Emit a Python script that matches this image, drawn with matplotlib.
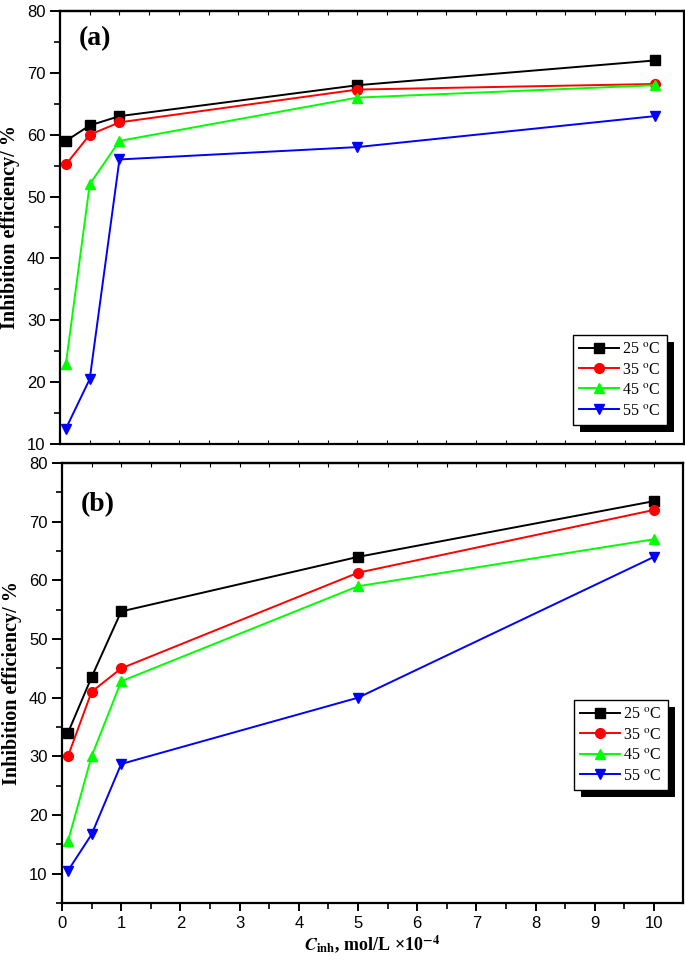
import matplotlib
matplotlib.use("Agg")
import matplotlib.pyplot as plt
from matplotlib.patches import Rectangle
from matplotlib.transforms import IdentityTransform
from matplotlib.ticker import MultipleLocator

plt.rcParams['mathtext.fontset'] = 'stix'

conc = [0.1, 0.5, 1, 5, 10]
labels = [r"25 $^{\mathrm{o}}$C", r"35 $^{\mathrm{o}}$C", r"45 $^{\mathrm{o}}$C", r"55 $^{\mathrm{o}}$C"]

ie_a_25 = [59.0, 61.5, 63.0, 68.0, 72.0]
ie_a_35 = [55.2, 60.0, 62.0, 67.3, 68.2]
ie_a_45 = [23.0, 52.0, 59.0, 66.0, 68.0]
ie_a_55 = [12.5, 20.5, 56.0, 58.0, 63.0]

ie_b_25 = [34.0, 43.5, 54.7, 64.0, 73.5]
ie_b_35 = [30.0, 41.0, 45.0, 61.3, 72.0]
ie_b_45 = [15.5, 30.0, 42.8, 59.0, 67.0]
ie_b_55 = [10.5, 16.7, 28.7, 40.0, 64.0]

colors = ['black', 'red', '#00ff00', 'blue']
markers = ['s', 'o', '^', 'v']

fig = plt.figure(figsize=(6.85, 9.65), dpi=100)
ax_a = fig.add_axes([0.0876, 0.5399, 0.9105, 0.4487])
ax_b = fig.add_axes([0.0905, 0.0642, 0.9066, 0.4560])

serif_bold = dict(family='Liberation Serif', weight='bold')


def add_top_ticks(ax):
    sec = ax.secondary_xaxis('top')
    sec.xaxis.set_major_locator(MultipleLocator(1))
    sec.xaxis.set_minor_locator(MultipleLocator(0.5))
    sec.tick_params(axis='x', which='both', direction='in', length=3, width=0.8,
                    labeltop=False)
    sec.spines['top'].set_linewidth(1.6)


def style(ax, ylim, show_xlabels):
    ax.set_xlim(0, 10.49)
    ax.set_ylim(*ylim)
    ax.xaxis.set_major_locator(MultipleLocator(1))
    ax.xaxis.set_minor_locator(MultipleLocator(0.5))
    ax.yaxis.set_major_locator(MultipleLocator(10))
    ax.yaxis.set_minor_locator(MultipleLocator(5))
    for s in ax.spines.values():
        s.set_linewidth(1.6)
    ax.tick_params(axis='y', which='major', direction='out', length=7, width=1.4,
                   labelsize=12, left=True, right=False)
    ax.tick_params(axis='y', which='minor', direction='out', length=4, width=1.2,
                   left=True, right=False)
    if show_xlabels:
        ax.tick_params(axis='x', which='major', direction='out', length=6, width=1.4,
                       labelsize=12, top=False, bottom=True)
        ax.tick_params(axis='x', which='minor', direction='out', length=4, width=1.2,
                       top=False, bottom=True)
    else:
        ax.tick_params(axis='x', which='both', direction='in', length=3, width=0.8,
                       top=False, bottom=True, labelbottom=False)
    for lab in ax.get_xticklabels() + ax.get_yticklabels():
        lab.set_fontfamily('Liberation Sans')
    ax.set_ylabel("Inhibition efficiency/ %", fontsize=14.5, labelpad=5, **serif_bold)
    add_top_ticks(ax)


def plot_panel(ax, series, legend_anchor):
    handles = []
    for ys, c, m, lab in zip(series, colors, markers, labels):
        h, = ax.plot(conc, ys, color=c, marker=m, markersize=7, linewidth=1.4, label=lab)
        handles.append(h)
    leg = ax.legend(handles=handles, loc='lower right', bbox_to_anchor=legend_anchor,
                    borderaxespad=0, fancybox=False, framealpha=1, edgecolor='black',
                    prop=dict(family='Liberation Serif', size=11.5), handlelength=2.5,
                    handletextpad=0.2, labelspacing=0.28, borderpad=0.4)
    leg.get_frame().set_linewidth(1.0)
    leg.set_zorder(6)
    return leg


leg_a = plot_panel(ax_a, [ie_a_25, ie_a_35, ie_a_45, ie_a_55], (0.973, 0.044))
leg_b = plot_panel(ax_b, [ie_b_25, ie_b_35, ie_b_45, ie_b_55], (0.976, 0.257))

style(ax_a, (10, 80), False)
style(ax_b, (5, 80), True)

ax_a.text(0.03, 0.965, "(a)", transform=ax_a.transAxes, fontsize=20, va='top', ha='left', **serif_bold)
ax_b.text(0.03, 0.935, "(b)", transform=ax_b.transAxes, fontsize=20, va='top', ha='left', **serif_bold)

ax_b.set_xlabel(r"$\mathbfit{C}_{\mathbf{inh}}$, mol/L ×10$^{\mathbf{-4}}$", fontsize=13,
                labelpad=2, **serif_bold)

# legend drop shadows
fig.canvas.draw()
for ax, leg in ((ax_a, leg_a), (ax_b, leg_b)):
    bb = leg.get_window_extent()
    shadow = Rectangle((bb.x0 + 7, bb.y0 - 7), bb.width, bb.height, transform=IdentityTransform(),
                       facecolor='black', edgecolor='none', zorder=5.5, clip_on=False)
    ax.add_patch(shadow)

fig.savefig("out.png", dpi=100)
